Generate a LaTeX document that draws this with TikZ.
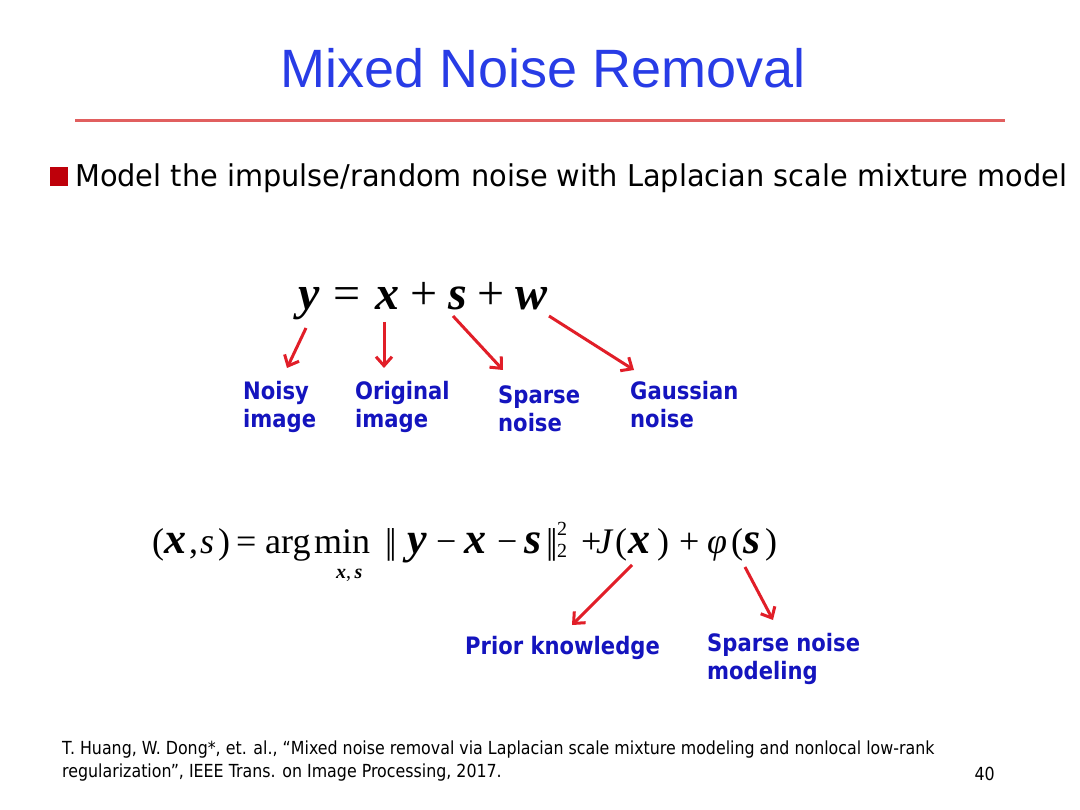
\documentclass[tikz,border=0pt]{standalone}
\usepackage{fontspec}
\usetikzlibrary{arrows.meta}
\setmainfont{Liberation Serif}
\newfontfamily\arialf{Liberation Sans}
\newfontfamily\tahomaf[FakeStretch=0.88]{DejaVu Sans}
\newfontfamily\bulletf[FakeStretch=0.96]{DejaVu Sans}
\newfontfamily\timesf{Liberation Serif}
\newcommand{\bi}{\bfseries\itshape}
% one glyph in a box of fixed width (1pt = 1px here)
\newcommand{\pc}[2]{\makebox[#1pt][l]{#2}}
\newcommand{\bv}[1]{{\fontsize{44}{44}\selectfont\bi #1}}
\newcommand{\nrm}{|\kern-3pt|}
\definecolor{titleblue}{RGB}{40,60,230}
\definecolor{rulered}{RGB}{225,95,95}
\definecolor{bulletred}{RGB}{190,0,10}
\definecolor{arrred}{RGB}{225,30,40}
\definecolor{lblblue}{RGB}{20,20,190}
\tikzset{
  lbl/.style={font=\tahomaf\bfseries\fontsize{24}{28}\selectfont, text=lblblue,
    align=left, inner sep=0pt, anchor=north west},
  arr/.style={draw=arrred, line width=3pt, -{Straight Barb[length=9pt,width=16pt]}},
  eqn/.style={font=\timesf, inner sep=0pt, anchor=base west}
}
\begin{document}
\begin{tikzpicture}[x=1pt,y=-1pt]
\fill[white] (0,0) rectangle (1080,810);

% title and rule
\node[font=\arialf\fontsize{54}{54}\selectfont, text=titleblue, inner sep=0pt, anchor=base] (title) at (543,88) {Mixed Noise Removal};
\draw[rulered, line width=3pt] (75,121) -- (1005,121);

% bullet
\fill[bulletred] (50,167) rectangle (68,186);
\node[font=\bulletf\fontsize{30}{30}\selectfont, inner sep=0pt, anchor=base west] (bullet) at (75,187)
  {Model the impulse/random noise with Laplacian scale mixture model};

% y = x + s + w
\node[eqn, font=\timesf\fontsize{48}{48}\selectfont] (model) at (298,310)
  {\pc{35}{\bi y}\pc{42}{=}\pc{35}{\bi x}\pc{38}{+}\pc{29}{\bi s}\pc{38}{+}{\bi w}};
\coordinate (ty) at (306,328);
\coordinate (tx) at (384,322);
\coordinate (ts) at (453,316);
\coordinate (tw) at (549,316);

\node[lbl] (noisy) at (243,381) {Noisy\\image};
\node[lbl] (orig) at (355,381) {Original\\image};
\node[lbl] (sparse) at (498,385) {Sparse\\noise};
\node[lbl] (gauss) at (630,381) {Gaussian\\noise};

\draw[arr] (ty) -- ([shift={(44,-13)}]noisy.north west);
\draw[arr] (tx) -- ([shift={(29,-13)}]orig.north west);
\draw[arr] (ts) -- ([shift={(5,-15)}]sparse.north west);
\draw[arr] (tw) -- ([shift={(4,-11)}]gauss.north west);

% objective
\node[eqn, font=\timesf\fontsize{36}{36}\selectfont] (loss) at (152,553)
  {\pc{12}{(}\pc{25}{\bv{x}}\pc{11}{,}\pc{18}{\itshape s}\pc{18}{)}\pc{29}{=}\pc{49}{arg}%
   \pc{71}{\rlap{\hspace{22pt}\raisebox{-25pt}{\fontsize{20}{20}\selectfont\bi x\normalfont,\,\bi s}}min}%
   \pc{22}{\nrm}\pc{29}{\bv{y}}\pc{28}{−}\pc{33}{\bv{x}}\pc{27}{−}\pc{22}{\bv{s}}\pc{11}{\nrm}%
   \pc{24}{\fontsize{20}{20}\selectfont\rlap{\raisebox{18pt}{2}}\raisebox{-4pt}{2}}%
   \pc{15}{+}\pc{19}{\itshape J}\pc{13}{(}\pc{29}{\bv{x}}\pc{22}{)}\pc{28}{+}%
   \pc{24}{\itshape φ}\pc{12}{(}\pc{22}{\bv{s}})};
\coordinate (tj) at (632,565);
\coordinate (tphi) at (745,567);

\node[lbl] (prior) at (465,636) {Prior knowledge};
\node[lbl] (spnm) at (707,633) {Sparse noise\\modeling};

\draw[arr] (tj) -- ([shift={(107,-11)}]prior.north west);
\draw[arr] (tphi) -- ([shift={(66,-13)}]spnm.north west);

% reference
\node[font=\tahomaf\fontsize{18}{23}\selectfont, align=left, inner sep=0pt, anchor=north west] (cite) at (62,741)
  {T. Huang, W. Dong*, et. al., “Mixed noise removal via Laplacian scale mixture modeling and nonlocal low-rank\\
   regularization”, IEEE Trans. on Image Processing, 2017.};
\node[font=\tahomaf\fontsize{18}{18}\selectfont, inner sep=0pt, anchor=base east] (page) at (995,780) {40};
\end{tikzpicture}
\end{document}
